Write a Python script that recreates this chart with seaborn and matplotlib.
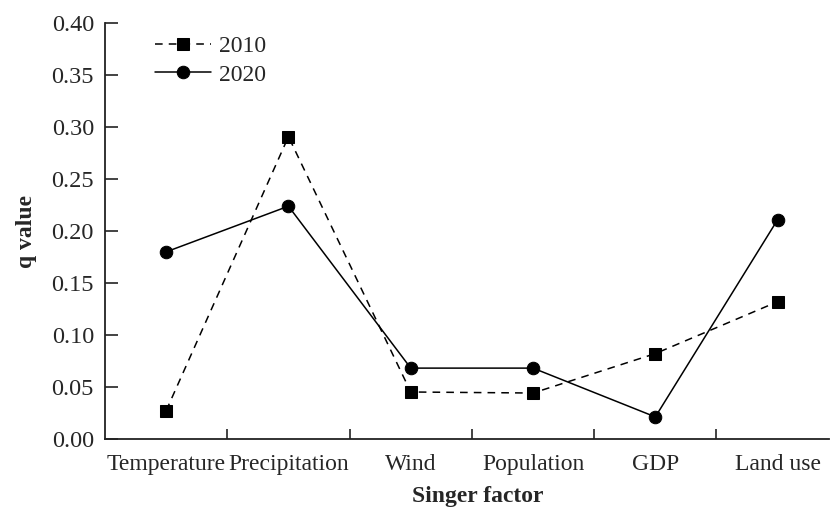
import matplotlib
matplotlib.use("Agg")
import matplotlib.pyplot as plt
import seaborn as sns
import pandas as pd
import numpy as np
from matplotlib.ticker import FixedLocator, MultipleLocator

factors = ["Temperature", "Precipitation", "Wind", "Population", "GDP", "Land use"]
q_2010 = [0.027, 0.291, 0.045, 0.044, 0.082, 0.132]
q_2020 = [0.180, 0.224, 0.068, 0.068, 0.021, 0.211]
years = ["2010", "2020"]

df = pd.DataFrame({
    "factor": factors * 2,
    "pos": list(range(len(factors))) * 2,
    "q": q_2010 + q_2020,
    "year": [years[0]] * len(factors) + [years[1]] * len(factors),
})

sns.set_style("ticks")
plt.rcParams["font.family"] = ["Liberation Serif", "DejaVu Serif"]

fig = plt.figure(figsize=(8.33, 5.08), dpi=100)
ax = fig.add_axes([105 / 833, 1 - 438.7 / 508, (829 - 105) / 833, (438.7 - 23.5) / 508])

sns.lineplot(data=df, x="pos", y="q", hue="year", style="year",
             palette={"2010": "black", "2020": "black"},
             markers={"2010": "s", "2020": "o"},
             dashes={"2010": (5, 4), "2020": ""},
             markersize=9, linewidth=1.1, markeredgecolor="black",
             sort=False, ax=ax)

ax.set_xlim(-0.5, 5.42)
ax.set_ylim(0, 0.40)
ax.yaxis.set_major_locator(MultipleLocator(0.05))
ax.yaxis.set_major_formatter(matplotlib.ticker.FormatStrFormatter("%.2f"))
ax.set_xticks(range(len(factors)))
ax.set_xticklabels(factors)
ax.xaxis.set_minor_locator(FixedLocator(np.arange(0.5, len(factors) - 0.5, 1)))
ax.tick_params(axis="x", which="major", length=0, labelsize=17, pad=11)
ax.tick_params(axis="x", which="minor", direction="in", length=7, width=1.2, color="#222222")
ax.tick_params(axis="y", which="major", direction="in", length=9, width=1.2, labelsize=17.5, pad=8, color="#222222")
for s in ["top", "right"]:
    ax.spines[s].set_visible(False)
for s in ["left", "bottom"]:
    ax.spines[s].set_linewidth(1.3)
    ax.spines[s].set_color("#222222")

ax.set_xlabel("Singer factor", fontsize=17, fontweight="bold")
ax.xaxis.set_label_coords(0.5145, -0.115)
ax.set_ylabel("q value", fontsize=17, fontweight="bold", labelpad=10)

leg = ax.legend(loc="upper left", bbox_to_anchor=(0.05, 1.005), frameon=False,
                fontsize=17, handlelength=2.35, handletextpad=0.35, labelspacing=0.3,
                borderaxespad=0.2)

fig.savefig("out.png", dpi=100)
